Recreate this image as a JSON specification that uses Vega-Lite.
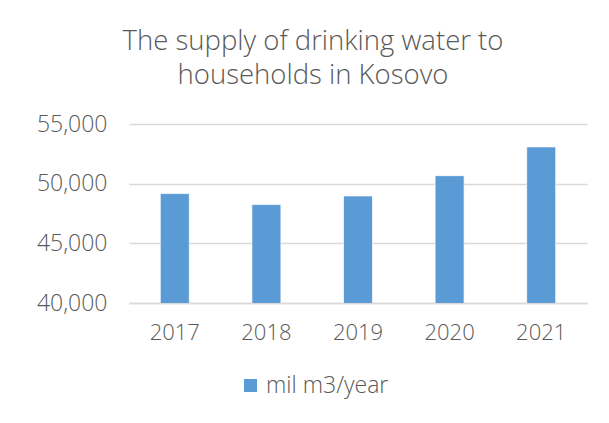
{
  "$schema": "https://vega.github.io/schema/vega-lite/v6.json",
  "width": 458,
  "height": 179,
  "autosize": "none",
  "padding": {"left": 129, "top": 124, "right": 21, "bottom": 120},
  "background": "white",
  "title": {
    "text": ["The supply of drinking water to", "households in Kosovo"],
    "font": "Open Sans",
    "fontWeight": 300,
    "fontSize": 27.5,
    "color": "#595959",
    "anchor": "middle",
    "dx": -45,
    "offset": 24,
    "lineHeight": 34
  },
  "data": {
    "values": [
      {"year": "2017", "value": 49170, "series": "mil m3/year"},
      {"year": "2018", "value": 48250, "series": "mil m3/year"},
      {"year": "2019", "value": 48970, "series": "mil m3/year"},
      {"year": "2020", "value": 50670, "series": "mil m3/year"},
      {"year": "2021", "value": 53080, "series": "mil m3/year"}
    ]
  },
  "mark": {"type": "bar", "size": 29, "stroke": "white", "strokeWidth": 0.7, "clip": true},
  "encoding": {
    "x": {
      "field": "year",
      "type": "ordinal",
      "scale": {"paddingInner": 0, "paddingOuter": 0},
      "axis": {
        "title": null,
        "labelAngle": 0,
        "ticks": false,
        "domain": true,
        "domainColor": "#d9d9d9",
        "domainWidth": 1.5,
        "labelPadding": 19,
        "labelFont": "Open Sans",
        "labelFontWeight": 300,
        "labelFontSize": 22,
        "labelColor": "#595959"
      }
    },
    "y": {
      "field": "value",
      "type": "quantitative",
      "scale": {"domain": [40000, 55000], "nice": false, "zero": false},
      "axis": {
        "title": null,
        "values": [40000, 45000, 50000, 55000],
        "format": ",d",
        "ticks": false,
        "domain": false,
        "gridColor": "#d9d9d9",
        "gridWidth": 1.5,
        "labelPadding": 22,
        "labelFont": "Open Sans",
        "labelFontWeight": 300,
        "labelFontSize": 23,
        "labelColor": "#595959"
      }
    },
    "color": {
      "field": "series",
      "type": "nominal",
      "scale": {"range": ["#5B9BD5"]},
      "legend": {
        "title": null,
        "orient": "none",
        "legendX": 110,
        "legendY": 250,
        "symbolType": "square",
        "symbolSize": 169,
        "symbolStrokeWidth": 0,
        "labelFont": "Open Sans",
        "labelFontWeight": 300,
        "labelFontSize": 23,
        "labelColor": "#595959",
        "labelOffset": 4
      }
    }
  },
  "config": {"view": {"stroke": null}}
}
